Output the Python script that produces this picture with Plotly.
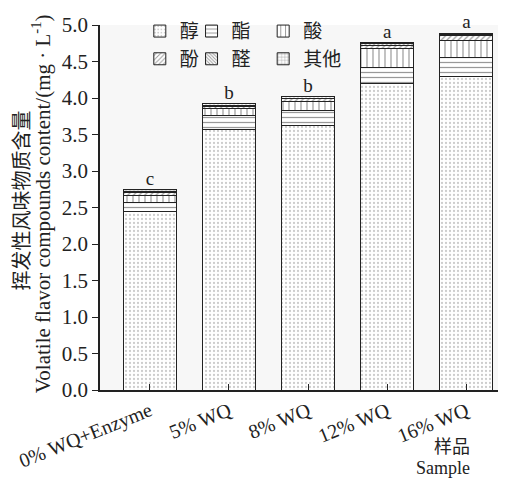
import plotly.graph_objects as go

# Sample groups and volatile flavour content (mg/L) by compound class
samples = ["0% WQ+Enzyme", "5% WQ", "8% WQ", "12% WQ", "16% WQ"]
alcohols = [2.45, 3.57, 3.63, 4.20, 4.29]
esters = [0.12, 0.19, 0.20, 0.22, 0.26]
acids = [0.09, 0.10, 0.12, 0.26, 0.24]
phenols = [0.04, 0.03, 0.04, 0.04, 0.07]
aldehydes = [0.02, 0.01, 0.01, 0.02, 0.01]
others = [0.02, 0.02, 0.02, 0.02, 0.02]
sig_letters = ["c", "b", "b", "a", "a"]

y_ticks = [0.0, 0.5, 1.0, 1.5, 2.0, 2.5, 3.0, 3.5, 4.0, 4.5, 5.0]

FONT = "Liberation Serif, Noto Sans CJK SC, serif"

# name, values, pattern shape, pattern colour, size, solidity, legend column
series = [
    ("醇", alcohols, ".", "#9a9a9a", 4, 0.25, "legend"),
    ("酯", esters, "-", "#333333", 5, 0.25, "legend2"),
    ("酸", acids, "|", "#333333", 6, 0.2, "legend3"),
    ("酚", phenols, "/", "#333333", 4, 0.3, "legend"),
    ("醛", aldehydes, "\\", "#333333", 3, 0.4, "legend2"),
    ("其他", others, "+", "#333333", 4, 0.25, "legend3"),
]

fig = go.Figure()
for name, vals, shape, fg, size, sol, leg in series:
    fig.add_trace(go.Bar(
        x=samples, y=vals, name=name, legend=leg,
        width=0.67,
        marker=dict(
            color="white",
            line=dict(color="#222222", width=1),
            pattern=dict(shape=shape, fgcolor=fg, bgcolor="white",
                         size=size, solidity=sol),
        ),
    ))

totals = [sum(v) for v in zip(alcohols, esters, acids, phenols, aldehydes, others)]
fig.add_trace(go.Scatter(
    x=samples, y=totals, mode="text", text=sig_letters,
    textposition="top center", showlegend=False,
    textfont=dict(family=FONT, size=19, color="#222222"),
    cliponaxis=False,
))

legend_style = dict(orientation="v", xanchor="left", yanchor="top", y=1.035,
                    itemwidth=30, traceorder="normal", tracegroupgap=0,
                    bgcolor="rgba(0,0,0,0)", font=dict(size=19))

fig.update_layout(
    width=516, height=478,
    margin=dict(l=100, r=18, t=19, b=88),
    barmode="stack",
    paper_bgcolor="white",
    plot_bgcolor="#f7f7f7",
    font=dict(family=FONT, size=19, color="#222222"),
    legend=dict(x=0.1, **legend_style),
    legend2=dict(x=0.23, **legend_style),
    legend3=dict(x=0.41, **legend_style),
    xaxis=dict(
        range=[-0.63, 4.4], showline=True, linecolor="#222222", linewidth=1.5,
        ticks="inside", ticklen=6, tickcolor="#222222", tickangle=-22,
        tickfont=dict(family=FONT, size=20), showgrid=False, automargin=False,
    ),
    yaxis=dict(
        range=[0, 5.0], tickvals=y_ticks,
        ticktext=[f"{v:.1f}" for v in y_ticks],
        showline=True, linecolor="#222222", linewidth=1.5,
        ticks="outside", ticklen=6, tickcolor="#222222",
        tickfont=dict(family=FONT, size=21), showgrid=False, zeroline=False,
        automargin=False,
    ),
)

fig.add_annotation(text="挥发性风味物质含量", xref="paper", yref="paper",
                   x=-0.195, y=0.52, textangle=-90, showarrow=False,
                   xanchor="center", yanchor="middle",
                   font=dict(family=FONT, size=20))
fig.add_annotation(text="Volatile flavor compounds content/(mg · L<sup>-1</sup>)",
                   xref="paper", yref="paper",
                   x=-0.145, y=0.51, textangle=-90, showarrow=False,
                   xanchor="center", yanchor="middle",
                   font=dict(family=FONT, size=21))
fig.add_annotation(text="样品", xref="paper", yref="paper",
                   x=0.935, y=-0.155, showarrow=False, xanchor="right",
                   yanchor="middle", font=dict(family=FONT, size=18))
fig.add_annotation(text="Sample", xref="paper", yref="paper",
                   x=0.935, y=-0.213, showarrow=False, xanchor="right",
                   yanchor="middle",
                   font=dict(family="Liberation Serif", size=18))

fig.write_html("out.html")
